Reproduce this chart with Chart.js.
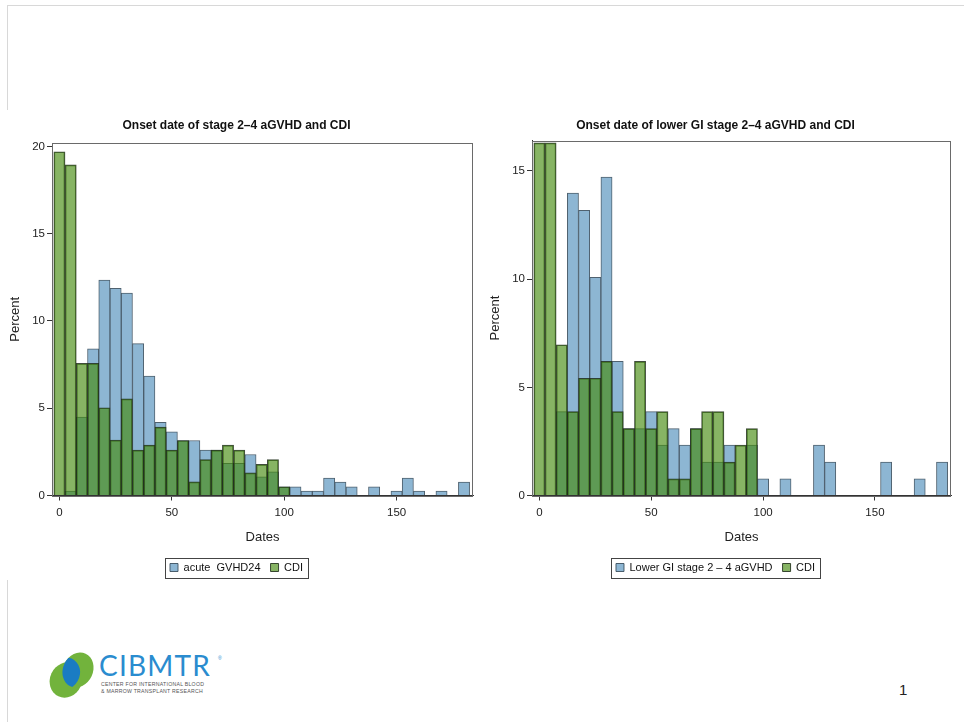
<!DOCTYPE html>
<html><head><meta charset="utf-8">
<script src="https://cdn.jsdelivr.net/npm/chart.js@4.4.0/dist/chart.umd.min.js"></script>
<style>
body{margin:0;background:#fff;width:964px;height:722px;position:relative;overflow:hidden;font-family:'Liberation Sans',Arial,sans-serif}
canvas{position:absolute}
#c1{left:0;top:100px}
#c2{left:480px;top:100px}
.ln{position:absolute;background:#d8d8d8}
#cib{position:absolute;left:99px;top:650px;font-family:Lato,'Open Sans',sans-serif;font-weight:400;font-size:28px;color:#2a8ccf;letter-spacing:1.2px;line-height:30px}
#reg{position:absolute;left:218px;top:655px;font-size:5px;color:#2a8ccf}
.sm{position:absolute;left:101px;font-size:5.2px;color:#555;letter-spacing:0.25px;font-family:'Liberation Sans',Arial,sans-serif;white-space:nowrap}
#pg{position:absolute;left:899px;top:681px;font-size:15px;color:#222}
</style></head><body>
<div class="ln" style="left:8px;top:5px;width:956px;height:1px"></div>
<div class="ln" style="left:7px;top:5px;width:1px;height:105px"></div>
<div class="ln" style="left:7px;top:580px;width:1px;height:142px"></div>
<canvas id="c1" width="482" height="490"></canvas>
<canvas id="c2" width="484" height="490"></canvas>
<svg style="position:absolute;left:45px;top:645px" width="60" height="60">
<defs><clipPath id="cp"><ellipse cx="21" cy="35" rx="16" ry="18" transform="rotate(25 21 35)"/></clipPath></defs>
<ellipse cx="21" cy="35" rx="16" ry="18" transform="rotate(25 21 35)" fill="#72b33c"/>
<ellipse cx="33" cy="25" rx="15" ry="18" transform="rotate(25 33 25)" fill="#72b33c"/>
<ellipse cx="33" cy="25" rx="15" ry="18" transform="rotate(25 33 25)" fill="#1a7cc3" clip-path="url(#cp)"/>
</svg>
<div id="cib">CIBMTR</div>
<div id="reg">®</div>
<div class="sm" style="top:681px">CENTER FOR INTERNATIONAL BLOOD</div>
<div class="sm" style="top:688px">&amp; MARROW TRANSPLANT RESEARCH</div>
<div id="pg">1</div>
<script>
// bin centers (days)
const binCenters = [0,5,10,15,20,25,30,35,40,45,50,55,60,65,70,75,80,85,90,95,100,105,110,115,120,125,130,135,140,145,150,155,160,165,170,175,180];
// Left panel: stage 2-4 aGVHD (blue) and CDI (green), percent
const leftGvhd = [0,0.26,4.5,8.4,12.35,11.87,11.6,8.7,6.85,4.2,3.65,3.15,3.15,2.6,2.6,1.84,1.84,2.35,1.07,1.36,0.5,0.5,0.25,0.25,1.0,0.77,0.5,0,0.5,0,0.25,1.0,0.25,0,0.25,0,0.77];
const leftCdi  = [19.7,18.95,7.57,7.57,5.03,3.17,5.54,2.6,2.89,3.92,2.6,3.15,0.78,2.06,2.6,2.89,2.6,1.3,1.78,2.06,0.5,0,0,0,0,0,0,0,0,0,0,0,0,0,0,0,0];
// Right panel: lower GI stage 2-4 aGVHD (blue) and CDI (green), percent
const rightGvhd = [0,0,3.88,13.98,13.18,10.09,14.72,6.2,3.09,3.09,3.88,2.33,3.09,2.33,3.09,1.54,1.54,2.33,0,2.33,0.77,0,0.77,0,0,2.33,1.54,0,0,0,0,1.54,0,0,0.77,0,1.54];
const rightCdi  = [16.3,16.3,6.97,3.88,5.42,5.42,6.2,3.88,3.09,6.2,3.09,3.88,0.77,0.77,3.09,3.88,3.88,1.54,2.33,3.09,0,0,0,0,0,0,0,0,0,0,0,0,0,0,0,0,0];
const xTicks = [0,50,100,150];
const leftYTicks = [0,5,10,15,20];
const rightYTicks = [0,5,10,15];
const titles = ['Onset date of stage 2\u20134 aGVHD and CDI','Onset date of lower GI stage 2\u20134 aGVHD and CDI'];
const blueLabels = ['acute  GVHD24','Lower GI stage 2 \u2013 4 aGVHD'];
const cdiLabel = 'CDI';

const FONT = "'Liberation Sans',Arial,sans-serif";
Chart.defaults.font.family = FONT;
Chart.defaults.color = '#222';

const framePlugin = {
  id:'frame',
  afterDraw(chart){
    const ctx = chart.ctx, a = chart.chartArea;
    ctx.save();
    ctx.strokeStyle = '#6a6a6a'; ctx.lineWidth = 1;
    ctx.strokeRect(Math.round(a.left)+0.5, Math.round(a.top)+0.5, Math.round(a.right-a.left)-1, Math.round(a.bottom-a.top));
    const hb = chart.legend.legendHitBoxes;
    if (hb && hb.length){
      let l = Infinity, r = -Infinity, t = hb[0].top, h = hb[0].height;
      hb.forEach(b=>{ l = Math.min(l,b.left); r = Math.max(r,b.left+b.width); });
      const cy = t + h/2;
      ctx.strokeStyle = '#444';
      ctx.strokeRect(Math.round(l-5)+0.5, Math.round(cy-10)+0.5, Math.round(r-l+10), 20);
    }
    ctx.restore();
  }
};

function makeChart(id, title, blueLabel, blue, green, yMax, yTicks, padRight, titleBottom){
  const mk = (arr) => binCenters.map((x,i)=>({x:x, y:arr[i]}));
  return new Chart(document.getElementById(id), {
    type:'bar',
    data:{ datasets:[
      {label:cdiLabel, data:mk(green), backgroundColor:'rgba(67,138,12,0.64)', borderColor:'rgba(30,45,25,0.85)', borderWidth:1, order:1},
      {label:blueLabel, data:mk(blue), backgroundColor:'rgb(141,182,211)', borderColor:'rgba(60,80,95,0.9)', borderWidth:1, order:2}
    ]},
    options:{
      responsive:false, animation:false,
      layout:{padding:{left:0,right:padRight,top:0,bottom:7}},
      datasets:{bar:{grouped:false, barPercentage:1, categoryPercentage:1}},
      plugins:{
        title:{display:true, text:title, font:{size:12, weight:'bold', family:FONT}, color:'#111', padding:{top:18,bottom:titleBottom}},
        legend:{position:'bottom', reverse:true, labels:{boxWidth:8, boxHeight:8, padding:10, font:{size:11}, color:'#111'}},
        tooltip:{enabled:false}
      },
      scales:{
        x:{type:'linear', min:-3.3, max:184, offset:false,
          afterBuildTicks(s){ s.ticks = xTicks.map(v=>({value:v})); },
          afterFit(s){ s.height = 56.5; },
          grid:{display:true, offset:false, drawOnChartArea:false, drawTicks:true, tickLength:5, color:'#333'},
          border:{display:true, color:'#333'},
          ticks:{padding:5, font:{size:11.5}, color:'#222', maxRotation:0, autoSkip:false},
          title:{display:true, text:'Dates', font:{size:13}, color:'#222', padding:{top:4,bottom:6.5}}
        },
        y:{min:0, max:yMax,
          afterBuildTicks(s){ s.ticks = yTicks.map(v=>({value:v})); },
          afterFit(s){ s.width = 52; },
          grid:{display:true, drawOnChartArea:false, drawTicks:true, tickLength:5, color:'#333'},
          border:{display:true, color:'#333'},
          ticks:{padding:2, font:{size:11.5}, color:'#222'},
          title:{display:true, text:'Percent', font:{size:13}, color:'#222', padding:{top:8,bottom:0}}
        }
      }
    },
    plugins:[framePlugin]
  });
}
makeChart('c1', titles[0], blueLabels[0], leftGvhd, leftCdi, 20.2, leftYTicks, 9, 10.6);
makeChart('c2', titles[1], blueLabels[1], rightGvhd, rightCdi, 16.4, rightYTicks, 13, 8.3);
</script>
</body></html>
